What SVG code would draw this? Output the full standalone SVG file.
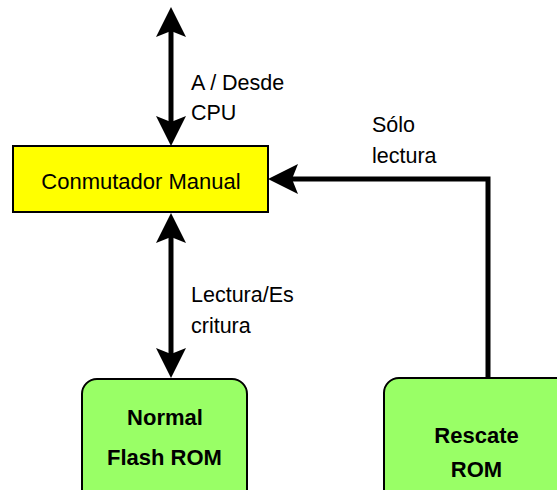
<svg xmlns="http://www.w3.org/2000/svg" width="557" height="490" viewBox="0 0 557 490">
<style>
.lbl{font-family:"Liberation Sans",Arial,sans-serif;font-size:21.5px;fill:#000}
.bold{font-family:"Liberation Sans",Arial,sans-serif;font-size:22px;font-weight:bold;fill:#000}
.conn{stroke:#000;stroke-width:5;fill:none}
.rom{fill:#99ff66;stroke:#000;stroke-width:2}
</style>
<defs>
<marker id="ah" markerUnits="userSpaceOnUse" viewBox="0 -17 32 34" markerWidth="32" markerHeight="34" refX="10" refY="0" orient="auto-start-reverse">
<path d="M30,0 L0,-15 L6,0 L0,15 Z" fill="#000"/>
</marker>
</defs>
<rect width="557" height="490" fill="#fff"/>
<g id="connectors">
<line class="conn" x1="171" y1="27" x2="171" y2="126" marker-start="url(#ah)" marker-end="url(#ah)"/>
<line class="conn" x1="171" y1="233" x2="171" y2="358" marker-start="url(#ah)" marker-end="url(#ah)"/>
<path class="conn" d="M488,378 V179 H288" marker-end="url(#ah)"/>
<text class="lbl" x="191" y="90">A / Desde</text>
<text class="lbl" x="191" y="120">CPU</text>
<text class="lbl" x="372" y="132">Sólo</text>
<text class="lbl" x="372" y="163">lectura</text>
<text class="lbl" x="191" y="302">Lectura/Es</text>
<text class="lbl" x="191" y="333">critura</text>
</g>
<g id="switch">
<rect x="13" y="146" width="255" height="66" fill="#ffff00" stroke="#000" stroke-width="2"/>
<text class="lbl" x="141" y="189" text-anchor="middle" style="font-size:22px">Conmutador Manual</text>
</g>
<g id="normal">
<rect class="rom" x="82" y="379" width="165" height="130" rx="15"/>
<text class="bold" x="165" y="425" text-anchor="middle">Normal</text>
<text class="bold" x="164.5" y="465" text-anchor="middle">Flash ROM</text>
</g>
<g id="rescate">
<rect class="rom" x="384" y="378" width="190" height="130" rx="15"/>
<text class="bold" x="476.5" y="443" text-anchor="middle">Rescate</text>
<text class="bold" x="476.5" y="477" text-anchor="middle">ROM</text>
</g>
</svg>
